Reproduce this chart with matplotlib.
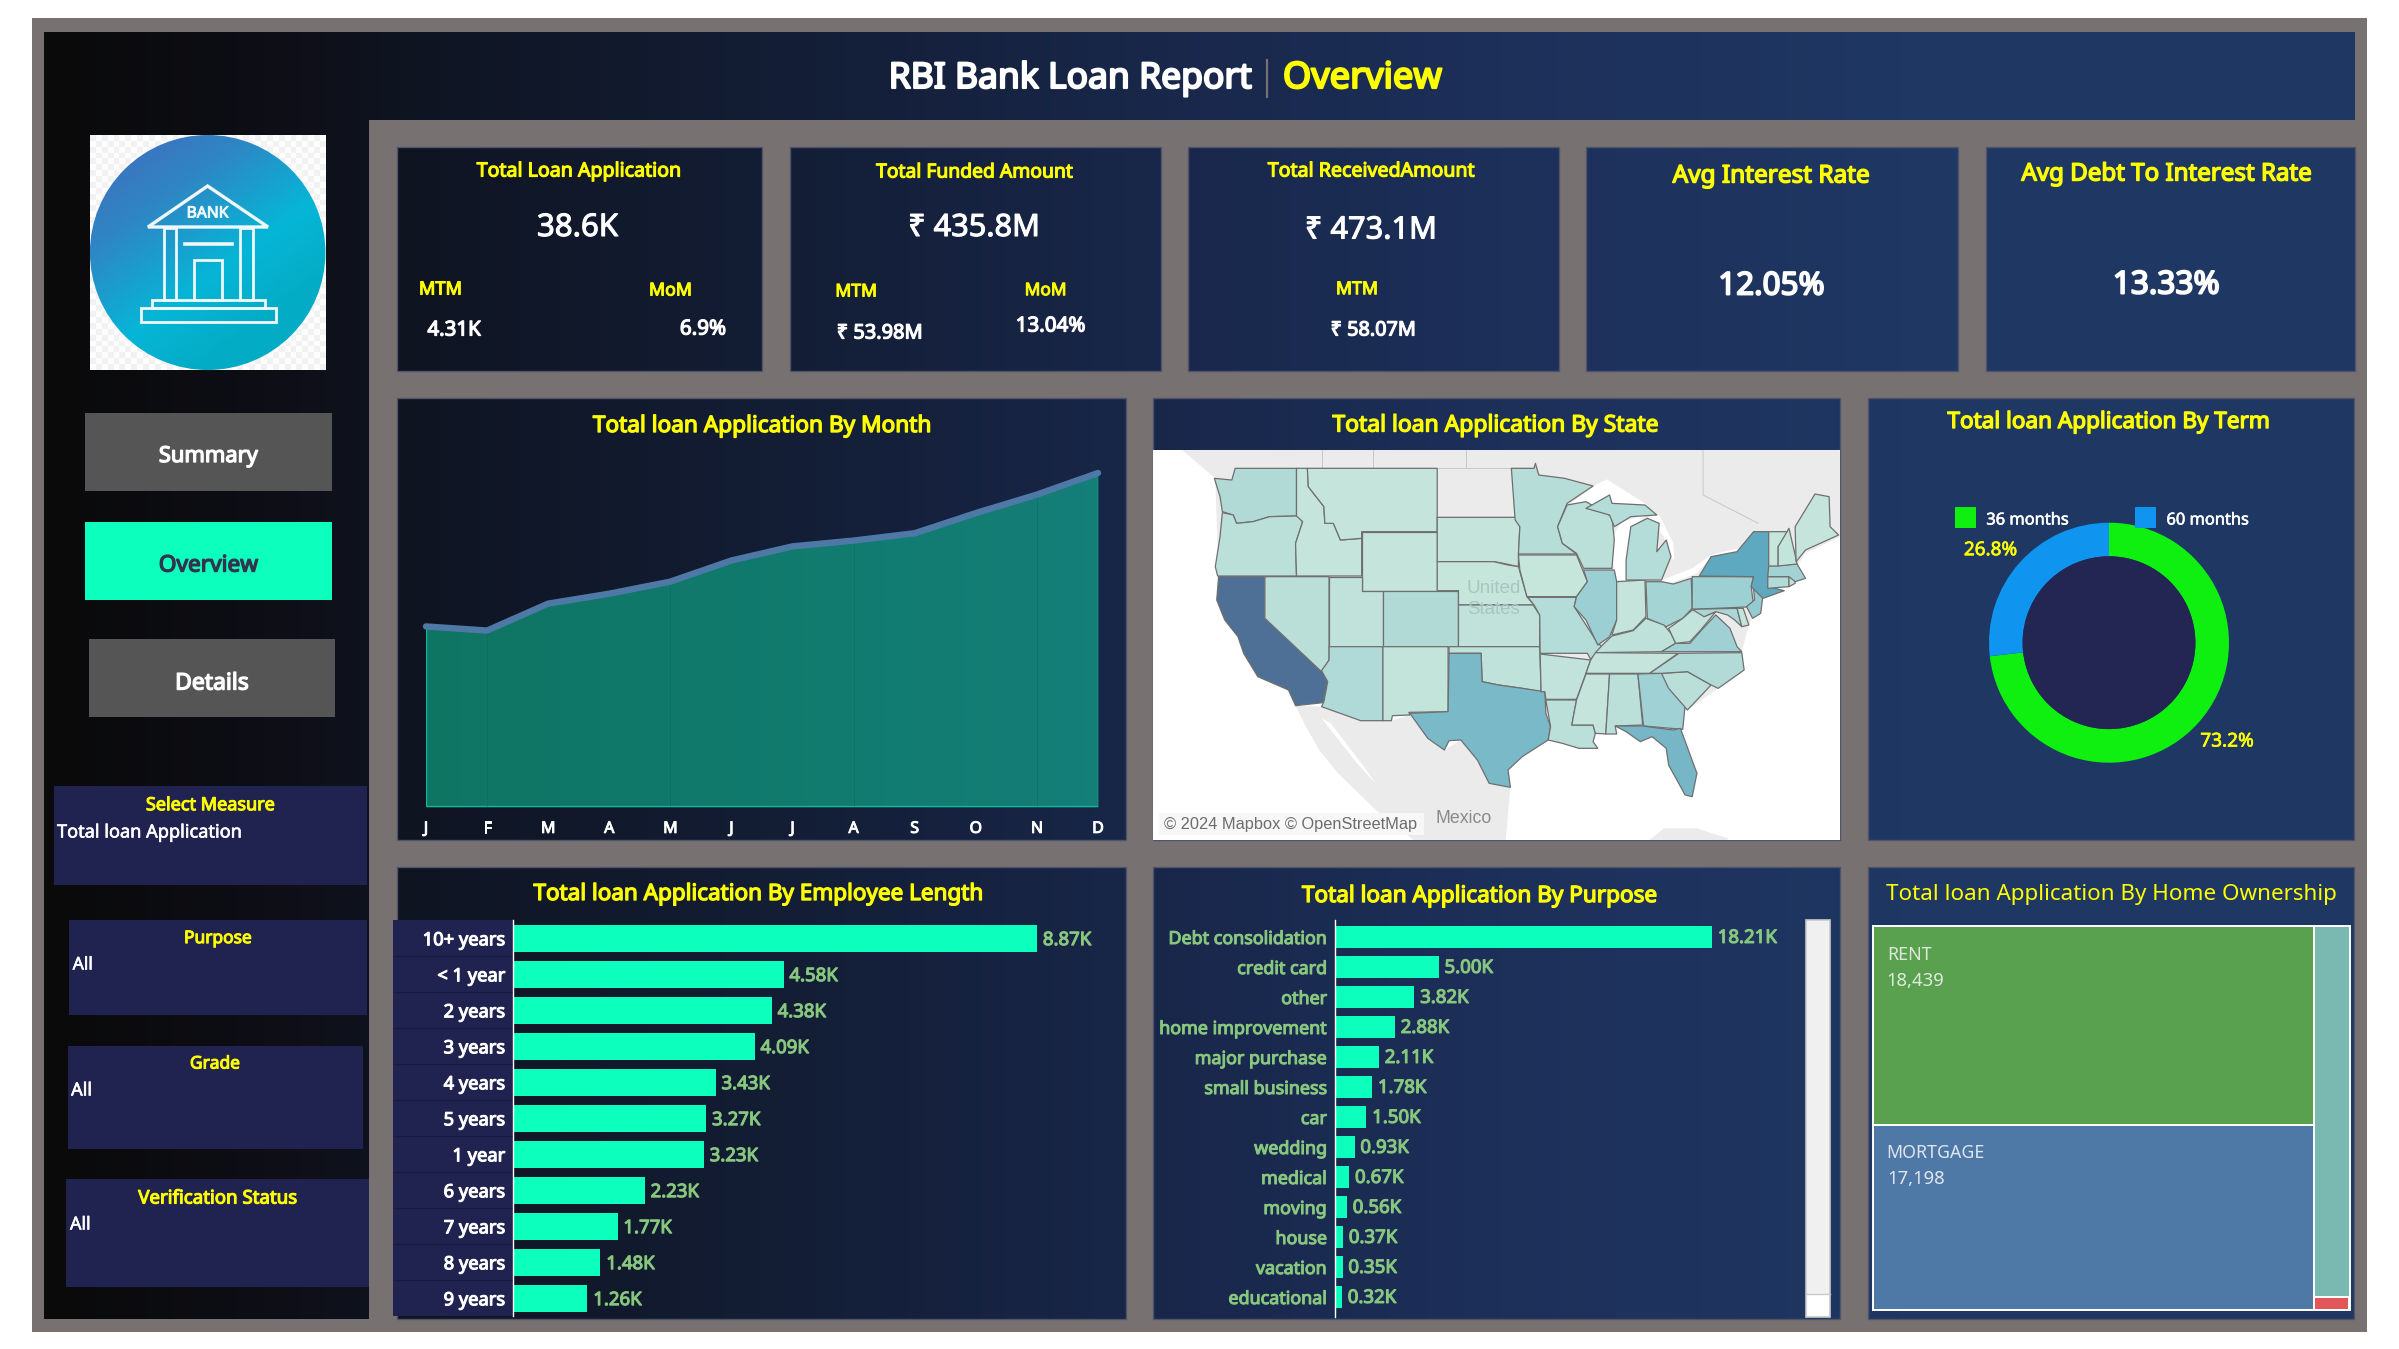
import numpy as np
import matplotlib
matplotlib.use("Agg")
import matplotlib.pyplot as plt
import matplotlib.patheffects as pef
from matplotlib.patches import Rectangle, Polygon, Circle, Ellipse
from matplotlib.colors import LinearSegmentedColormap

# ---------------- data ----------------
months = ["J", "F", "M", "A", "M", "J", "J", "A", "S", "O", "N", "D"]
month_apps = [2332, 2279, 2627, 2755, 2911, 3184, 3366, 3441, 3536, 3796, 4035, 4314]

emp_labels = ["10+ years", "< 1 year", "2 years", "3 years", "4 years", "5 years",
              "1 year", "6 years", "7 years", "8 years", "9 years"]
emp_values = [8.87, 4.58, 4.38, 4.09, 3.43, 3.27, 3.23, 2.23, 1.77, 1.48, 1.26]

purpose_labels = ["Debt consolidation", "credit card", "other", "home improvement",
                  "major purchase", "small business", "car", "wedding", "medical",
                  "moving", "house", "vacation", "educational"]
purpose_values = [18.21, 5.00, 3.82, 2.88, 2.11, 1.78, 1.50, 0.93, 0.67, 0.56, 0.37, 0.35, 0.32]

term_labels = ["36 months", "60 months"]
term_share = [73.2, 26.8]

home_labels = ["RENT", "MORTGAGE", "OWN", "OTHER", "NONE"]
home_values = [18439, 17198, 2838, 98, 3]

state_codes = ["WA", "OR", "CA", "NV", "ID", "MT", "WY", "UT", "CO", "AZ", "NM", "SD", "NE", "KS",
               "OK", "TX", "MN", "IA", "MO", "AR", "LA", "WI", "IL", "IN", "MI", "MIU", "OH", "KY",
               "TN", "MS", "AL", "GA", "FL", "SC", "NC", "VA", "WV", "PA", "MD", "DE", "NJ", "NY",
               "CT", "RI", "MA", "VT", "NH", "ME"]
state_values = [800, 430, 6900, 480, 60, 80, 80, 250, 770, 830, 180, 60, 50, 260,
                290, 2660, 590, 50, 670, 240, 430, 440, 1490, 90, 700, 700, 1190, 320,
                100, 60, 430, 1360, 2800, 460, 750, 1380, 170, 1480, 1030, 110, 1800, 3700,
                730, 190, 1310, 50, 160, 60]

kpi_titles = ["Total Loan Application", "Total Funded Amount", "Total ReceivedAmount",
              "Avg Interest Rate", "Avg Debt To Interest Rate"]
kpi_values = ["38.6K", "₹ 435.8M", "₹ 473.1M", "12.05%", "13.33%"]

# ---------------- geometry of the drawing (in reference pixels) ----------------
W, H = 2399, 1349
FONT = ["Noto Sans", "DejaVu Sans"]
plt.rcParams["font.family"] = FONT
YEL, WHT = "#ffff00", "#ffffff"
GREY = "#777171"
BAR = "#0dffbd"
VAL = "#88c77e"
BOX = "#20224f"
YOFF = 2.5

fig = plt.figure(figsize=(W / 100, H / 100), dpi=100, facecolor="white")
rend = fig.canvas.get_renderer()


def px_axes(x0, y0, x1, y1, z=2):
    a = fig.add_axes([x0 / W, 1 - y1 / H, (x1 - x0) / W, (y1 - y0) / H], zorder=z)
    a.patch.set_alpha(0)
    return a


bg = px_axes(0, 0, W, H, 1)
top = px_axes(0, 0, W, H, 10)
for a in (bg, top):
    a.set_xlim(0, W)
    a.set_ylim(H, 0)
    a.axis("off")

# global horizontal gradient that shows through every panel
sx = [0, 44, 300, 400, 760, 1125, 1500, 1900, 2399]
sr = [10, 10, 14, 15, 19, 24, 29, 31, 32]
sg = [10, 10, 15, 20, 29, 38, 48, 55, 56]
sb = [10, 10, 24, 33, 52, 72, 90, 99, 100]
xs = np.arange(W)
grad = np.stack([np.interp(xs, sx, sr), np.interp(xs, sx, sg), np.interp(xs, sx, sb)], axis=-1)[None, :, :] / 255


def panel(x0, y0, x1, y1, edge=True):
    i0, i1 = int(x0), int(x1)
    bg.imshow(grad[:, i0:i1], extent=(x0, x1, y1, y0), aspect="auto", zorder=2, interpolation="bilinear")
    if edge:
        bg.add_patch(Rectangle((x0, y0), x1 - x0, y1 - y0, fill=False, ec="#50546a", lw=1.0, zorder=3))


def rect(x0, y0, x1, y1, c, z=4, ax=bg, **k):
    ax.add_patch(Rectangle((x0, y0), x1 - x0, y1 - y0, fc=c, ec="none", zorder=z, **k))


def fit(s, w, weight="bold", family=None):
    t = top.text(0, 0, s, fontsize=10, fontweight=weight, family=family or FONT)
    b = t.get_window_extent(rend).width
    t.remove()
    return 10 * w / b


def heavy(fs, c, weight):
    k = {"bold": 0.06, "semibold": 0.035}.get(weight, 0)
    return [pef.withStroke(linewidth=fs * k, foreground=c)] if k else []


def T(x0, x1, y, s, c=WHT, weight="bold"):
    fs = fit(s, x1 - x0, weight)
    top.text((x0 + x1) / 2, y + YOFF, s, color=c, fontsize=fs, fontweight=weight,
             ha="center", va="center", zorder=20, path_effects=heavy(fs, c, weight))


rect(32, 18, 2367, 1332, GREY, z=1)
panel(44, 32, 369, 1319, edge=False)
panel(44, 32, 2355, 120, edge=False)

card_x = [(397, 762), (790, 1160.5), (1188, 1559), (1586, 1958), (1986, 2355)]
for x0, x1 in card_x:
    panel(x0, 147, x1, 371)
for (x0, x1) in [(396.5, 1125.5), (1152.5, 1840), (1867.5, 2354)]:
    panel(x0, 398, x1, 840)
    panel(x0, 867, x1, 1319)

# header
T(888.7, 1251.6, 76.5, "RBI Bank Loan Report")
T(1283, 1442, 76.5, "Overview", YEL)
bg.plot([1267, 1267], [60, 97], color=GREY, lw=1.6, zorder=5)

# ---------------- logo ----------------
lx0, lx1, ly0, ly1 = 90, 325.5, 135, 370
chk = (np.add.outer(np.arange(40), np.arange(40)) % 2)[..., None] * np.array([0.045] * 3) + 0.95
bg.imshow(chk, extent=(lx0, lx1, ly1, ly0), aspect="auto", zorder=4, interpolation="nearest")
u, v = np.meshgrid(np.linspace(0, 1, 200), np.linspace(0, 1, 200))
f = np.clip(u * 0.55 + v * 0.75, 0, 1)
logo_cm = LinearSegmentedColormap.from_list("logo", ["#4468bd", "#2f86c4", "#06b6d6", "#03a8bf"])
im = bg.imshow(f, cmap=logo_cm, vmin=0.0, vmax=1.1, extent=(lx0, lx1, ly1, ly0), aspect="auto", zorder=5)
ell = Ellipse((207.7, 252.5), lx1 - lx0, ly1 - ly0, transform=bg.transData, fc="none", ec="none")
bg.add_patch(ell)
im.set_clip_path(ell)
bd = "#eef7fa"
bg.add_patch(Polygon([(207.6, 186), (148, 227), (268, 227)], closed=True, fill=False, ec=bd, lw=2.4, zorder=6))
for a0, a1 in [(164, 176), (240, 252.5)]:
    bg.add_patch(Rectangle((a0, 228), a1 - a0, 72, fill=False, ec=bd, lw=2.0, zorder=6))
bg.add_patch(Rectangle((194, 260), 28, 40, fill=False, ec=bd, lw=2.0, zorder=6))
bg.plot([185, 232], [244, 244], color=bd, lw=2.6, zorder=6)
bg.add_patch(Rectangle((152, 300), 113, 8, fill=False, ec=bd, lw=2.0, zorder=6))
bg.add_patch(Rectangle((141, 308), 134.5, 14, fill=False, ec=bd, lw=2.0, zorder=6))
T(186.5, 228.5, 211, "BANK", bd, "bold")

# ---------------- side buttons and filters ----------------
rect(85, 413, 332, 490.5, "#555555")
rect(85, 522, 332, 599.5, BAR)
rect(88.5, 639, 334.5, 717, "#555555")
T(158.7, 258, 454, "Summary")
T(158.7, 258, 563.5, "Overview", "#33334d")
T(175, 248.7, 681, "Details")
filters = [("Select Measure", "Total loan Application", (54, 786, 367, 885), (145.7, 275, 802.7), (57.3, 241.7, 830)),
           ("Purpose", "All", (69, 919.5, 367, 1015), (184, 252, 935.6), (72.7, 93, 962)),
           ("Grade", "All", (67.7, 1045.6, 362.7, 1149), (190, 240, 1061), (71, 92, 1088)),
           ("Verification Status", "All", (66, 1179, 369, 1287), (138, 297, 1196), (70, 90.7, 1222))]
for name, val, b, tp, vp in filters:
    rect(*b, BOX)
    T(tp[0], tp[1], tp[2], name, YEL)
    T(vp[0], vp[1], vp[2], val, WHT, "semibold")

# ---------------- KPI cards ----------------
T(477, 681, 169, kpi_titles[0], YEL)
T(537, 618, 225.5, kpi_values[0], WHT, "semibold")
T(419, 462, 287, "MTM", YEL)
T(649, 692, 288, "MoM", YEL)
T(427.5, 480.6, 328, "4.31K")
T(680, 726, 327, "6.9%")
T(876, 1072.8, 170, kpi_titles[1], YEL)
T(908, 1039.8, 225.5, kpi_values[1], WHT, "semibold")
T(835.3, 877, 289, "MTM", YEL)
T(1024.6, 1066.5, 287.7, "MoM", YEL)
T(836.9, 923, 331, "₹ 53.98M")
T(1015.8, 1085, 324, "13.04%")
T(1268, 1475, 169, kpi_titles[2], YEL)
T(1305, 1436.8, 228, kpi_values[2], WHT, "semibold")
T(1336, 1378, 286.7, "MTM", YEL)
T(1330.6, 1415.9, 328, "₹ 58.07M")
T(1672.6, 1870, 174, kpi_titles[3], YEL)
T(1718.6, 1824, 284, kpi_values[3])
T(2021.6, 2312, 172, kpi_titles[4], YEL)
T(2113, 2219, 283, kpi_values[4])

# panel titles
T(593.3, 931, 424, "Total loan Application By Month", YEL)
T(1333, 1658.5, 423, "Total loan Application By State", YEL)
T(1948, 2269.8, 420, "Total loan Application By Term", YEL)
T(534, 983.5, 892, "Total loan Application By Employee Length", YEL)
T(1302, 1657, 894, "Total loan Application By Purpose", YEL)
T(1886.8, 2335.8, 892.3, "Total loan Application By Home Ownership", YEL, "normal")

# ---------------- area chart ----------------
ax = px_axes(426, 440, 1098, 807)
xm = np.arange(len(months))
ax.fill_between(xm, 0, month_apps, color="#0ffcbe", alpha=0.42, lw=0)
ax.plot([0, 0], [0, month_apps[0]], color="#14b896", lw=1)
ax.plot([11, 11], [0, month_apps[-1]], color="#14b896", lw=1)
ax.plot([0, 11], [0, 0], color="#14b896", lw=1.6)
for i in (1, 4, 7, 10):
    ax.plot([i, i], [0, month_apps[i]], color="#0f6458", lw=0.5, alpha=0.6)
ax.plot(xm, month_apps, color="#4e79a7", lw=4.6, solid_capstyle="round", solid_joinstyle="round", clip_on=False)
ax.set_xlim(0, 11)
ax.set_ylim(0, 4740)
ax.set_xticks(xm)
ax.set_xticklabels(months, color=WHT, fontweight="bold", fontsize=11.5,
                   path_effects=heavy(11.5, WHT, "bold"))
ax.set_yticks([])
ax.tick_params(axis="x", length=0, pad=10)
for s in ax.spines.values():
    s.set_visible(False)

# ---------------- map ----------------
shapes = {
    "WA": [(178, 295), (215, 300), (222, 265), (352, 265), (352, 408), (295, 410), (260, 425), (225, 430), (218, 405), (195, 395), (190, 350)],
    "OR": [(195, 398), (218, 405), (225, 430), (260, 425), (295, 410), (355, 408), (365, 425), (350, 490), (352, 588), (185, 588), (180, 560), (190, 470)],
    "CA": [(187, 590), (285, 590), (285, 715), (405, 870), (418, 905), (408, 968), (350, 977), (335, 930), (270, 890), (240, 820), (228, 770), (200, 720), (183, 660)],
    "NV": [(285, 590), (421, 590), (421, 840), (405, 875), (285, 715)],
    "ID": [(352, 265), (375, 265), (377, 320), (410, 380), (412, 430), (430, 430), (445, 480), (490, 475), (490, 588), (352, 588), (350, 490), (365, 425), (352, 408)],
    "MT": [(375, 265), (650, 265), (650, 455), (490, 455), (490, 475), (445, 480), (430, 430), (412, 430), (410, 380), (377, 320)],
    "WY": [(490, 457), (650, 457), (650, 632), (490, 632)],
    "UT": [(421, 590), (490, 590), (490, 632), (535, 632), (535, 800), (421, 800)],
    "CO": [(535, 632), (695, 632), (695, 800), (535, 800)],
    "AZ": [(421, 800), (535, 800), (535, 1022), (488, 1022), (405, 980), (410, 965), (418, 905), (405, 872), (421, 840)],
    "NM": [(535, 800), (673, 800), (673, 995), (590, 997), (592, 1005), (555, 1007), (553, 1022), (535, 1022)],
    "SD": [(650, 412), (820, 412), (825, 440), (822, 525), (822, 560), (790, 550), (770, 545), (650, 545)],
    "NE": [(650, 545), (770, 545), (800, 555), (822, 560), (840, 650), (855, 675), (695, 675), (695, 632), (650, 632)],
    "KS": [(695, 675), (853, 675), (867, 705), (867, 800), (695, 800)],
    "OK": [(675, 800), (867, 800), (870, 935), (830, 925), (780, 915), (745, 905), (743, 820), (675, 820)],
    "TX": [(675, 820), (743, 820), (745, 905), (780, 915), (830, 925), (878, 935), (880, 1000), (890, 1040), (885, 1080), (830, 1130), (800, 1170), (805, 1222), (760, 1210), (735, 1140), (700, 1080), (675, 1082), (665, 1110), (630, 1075), (592, 1000), (673, 995)],
    "MN": [(807, 265), (855, 265), (858, 250), (865, 285), (920, 295), (980, 318), (925, 370), (905, 440), (915, 490), (945, 522), (822, 522), (825, 440), (815, 420)],
    "IA": [(822, 525), (945, 525), (968, 605), (945, 650), (840, 650), (825, 570)],
    "MO": [(842, 652), (945, 652), (940, 680), (990, 790), (1000, 800), (975, 838), (968, 820), (868, 820), (867, 705), (855, 675)],
    "AR": [(868, 822), (975, 840), (965, 880), (945, 958), (880, 958), (878, 935), (870, 935)],
    "LA": [(880, 960), (945, 960), (935, 1035), (980, 1035), (985, 1060), (980, 1085), (990, 1105), (950, 1105), (915, 1090), (885, 1080), (890, 1040)],
    "WI": [(925, 375), (965, 365), (1020, 410), (1025, 480), (1020, 565), (960, 565), (945, 520), (915, 490), (905, 440)],
    "IL": [(960, 570), (1025, 570), (1030, 605), (1030, 720), (1015, 770), (990, 795), (965, 720), (940, 680), (945, 650), (968, 605)],
    "IN": [(1030, 605), (1090, 600), (1092, 710), (1065, 750), (1020, 765), (1030, 720)],
    "MI": [(1050, 600), (1125, 600), (1145, 530), (1135, 480), (1115, 515), (1120, 430), (1095, 415), (1060, 440), (1050, 540)],
    "MIU": [(965, 385), (1015, 345), (1020, 370), (1090, 375), (1115, 405), (1060, 410), (1025, 440), (1015, 405)],
    "OH": [(1092, 605), (1125, 605), (1150, 612), (1188, 595), (1190, 685), (1170, 715), (1135, 740), (1095, 715)],
    "KY": [(1020, 768), (1065, 752), (1092, 715), (1130, 735), (1145, 760), (1155, 790), (1125, 815), (985, 818), (1000, 795)],
    "TN": [(985, 818), (1160, 820), (1100, 880), (965, 880), (975, 840)],
    "MS": [(965, 882), (1015, 882), (1007, 1062), (985, 1060), (980, 1035), (935, 1035), (945, 960)],
    "AL": [(1015, 882), (1075, 882), (1085, 1035), (1027, 1038), (1030, 1062), (1007, 1062)],
    "GA": [(1075, 882), (1125, 880), (1175, 975), (1170, 1048), (1087, 1038)],
    "FL": [(1027, 1038), (1085, 1038), (1150, 1050), (1165, 1045), (1200, 1180), (1190, 1250), (1175, 1245), (1140, 1155), (1135, 1105), (1105, 1070), (1080, 1085), (1050, 1055)],
    "SC": [(1125, 880), (1180, 875), (1230, 915), (1180, 990), (1140, 925)],
    "NC": [(1100, 880), (1162, 820), (1295, 818), (1300, 870), (1245, 925), (1230, 915), (1180, 875), (1125, 880)],
    "VA": [(1125, 815), (1295, 815), (1285, 800), (1270, 745), (1240, 705), (1210, 750), (1185, 790), (1155, 790)],
    "WV": [(1140, 745), (1170, 715), (1190, 690), (1215, 688), (1215, 710), (1240, 695), (1208, 750), (1185, 785), (1155, 790)],
    "PA": [(1190, 590), (1320, 590), (1315, 620), (1320, 680), (1190, 688)],
    "MD": [(1190, 688), (1285, 685), (1295, 740), (1280, 720), (1265, 705), (1240, 695), (1215, 710)],
    "DE": [(1285, 685), (1298, 685), (1310, 735), (1295, 740)],
    "NJ": [(1320, 622), (1340, 645), (1335, 700), (1318, 715), (1305, 680), (1322, 660)],
    "NY": [(1205, 588), (1230, 530), (1285, 515), (1320, 455), (1352, 455), (1352, 560), (1350, 620), (1385, 632), (1340, 655), (1315, 620), (1320, 590)],
    "CT": [(1350, 590), (1395, 590), (1395, 620), (1350, 625)],
    "RI": [(1395, 590), (1408, 590), (1408, 610), (1395, 620)],
    "MA": [(1352, 558), (1412, 552), (1430, 595), (1408, 605), (1395, 590), (1350, 590)],
    "VT": [(1352, 455), (1395, 455), (1372, 500), (1372, 558), (1352, 558)],
    "NH": [(1395, 445), (1408, 525), (1412, 552), (1372, 558), (1372, 500)],
    "ME": [(1408, 440), (1450, 342), (1480, 350), (1482, 440), (1500, 465), (1430, 510), (1410, 545)],
}
mp = px_axes(1152.5, 450, 1840, 840)
mp.patch.set_alpha(1)
mp.set_facecolor("white")
mp.set_xlim(47, 1503)
mp.set_ylim(1380, 210)
mp.set_xticks([])
mp.set_yticks([])
for s in mp.spines.values():
    s.set_visible(False)
LAND = "#ebebeb"
land = [
    [(110, 210), (1503, 210), (1503, 470), (1430, 520), (1412, 560), (1350, 640), (1180, 700), (900, 700), (187, 590), (180, 295)],
    [(350, 977), (405, 980), (488, 1022), (553, 1022), (592, 1005), (630, 1075), (665, 1110), (700, 1080), (735, 1140), (760, 1210), (805, 1222), (795, 1380), (600, 1380), (520, 1290), (440, 1180), (400, 1110), (372, 1040)],
    [(1100, 1380), (1130, 1345), (1200, 1345), (1265, 1375), (1265, 1380)],
    [(187, 590), (405, 880), (420, 960), (590, 1000), (880, 1000), (940, 1030), (1100, 1030), (1180, 990), (1245, 925), (1295, 815), (1310, 735), (1340, 650), (1180, 600)],
]
for p in land:
    mp.add_patch(Polygon(p, closed=True, fc=LAND, ec="none", zorder=1))
lakes = [
    [(925, 378), (985, 315), (1010, 298), (1095, 375), (1090, 382), (1020, 372), (965, 372)],
    [(1020, 475), (1040, 425), (1090, 405), (1060, 450), (1055, 540), (1050, 604), (1030, 600), (1020, 530)],
    [(1095, 410), (1120, 405), (1150, 490), (1152, 540), (1140, 530), (1130, 470)],
    [(1125, 600), (1190, 565), (1230, 525), (1285, 505), (1290, 515), (1225, 540), (1200, 580), (1140, 612)],
    [(405, 1015), (425, 1030), (500, 1170), (520, 1210), (480, 1150)],
]
for p in lakes:
    mp.add_patch(Polygon(p, closed=True, fc="white", ec="none", zorder=2))
for seg in [[(407, 210), (407, 262)], [(515, 210), (515, 265)], [(710, 210), (710, 265)],
            [(1213, 210), (1213, 345), (1330, 430)], [(650, 265), (807, 265)], [(807, 265), (820, 412)], [(650, 412), (820, 412)]]:
    mp.plot(*zip(*seg), color="#c8c8c8", lw=0.7, zorder=2)
state_cmap = LinearSegmentedColormap.from_list(
    "st", [(0, "#c7e6dc"), (1500 / 6900, "#9ccfd3"), (2800 / 6900, "#76b6c7"), (3700 / 6900, "#5fa9c0"), (1, "#4f7096")])
for code, val in zip(state_codes, state_values):
    mp.add_patch(Polygon(shapes[code], closed=True, fc=state_cmap(val / 6900), ec="#6f6f6f", lw=0.9, zorder=3, joinstyle="round"))
LS = "Liberation Sans"
mp.text(770, 625, "United", color="#aac4be", fontsize=fit("United", 55, "normal", LS), ha="center", va="center", zorder=4, family=LS)
mp.text(770, 690, "States", color="#aac4be", fontsize=fit("States", 53, "normal", LS), ha="center", va="center", zorder=4, family=LS)
mp.text(705, 1315, "Mexico", color="#8a8a8a", fontsize=fit("Mexico", 56.6, "normal", LS), ha="center", va="center", zorder=4, family=LS)
mp.add_patch(Rectangle((60, 1300), 563, 65, fc="#f7f7f7", ec="none", zorder=4))
mp.text(72, 1335, "© 2024 Mapbox © OpenStreetMap", color="#6c6c6c", fontsize=fit("© 2024 Mapbox © OpenStreetMap", 254, "normal", LS),
        ha="left", va="center", zorder=5, family=LS)

# ---------------- donut ----------------
cx, cy, R = 2109, 642.7, 120
pad = 1.04
dn = px_axes(cx - R * pad, cy - R * pad, cx + R * pad, cy + R * pad)
dn.pie(term_share, colors=["#0fef10", "#0f94ef"], startangle=90, counterclock=False, radius=1,
       wedgeprops=dict(width=0.28, lw=0))
dn.add_patch(Circle((0, 0), 0.72, fc="#232553", ec="none", zorder=5))
dn.set_xlim(-pad, pad)
dn.set_ylim(-pad, pad)
rect(1955, 507, 1976, 527.7, "#0fef10", z=15, ax=top)
rect(2135, 507, 2156, 527.7, "#0f94ef", z=15, ax=top)
T(1986.5, 2068.5, 518, term_labels[0], WHT, "semibold")
T(2166.6, 2248.6, 518, term_labels[1], WHT, "semibold")
T(1964, 2017, 547.7, f"{term_share[1]}%", YEL, "semibold")
T(2200.5, 2253.5, 739, f"{term_share[0]}%", YEL, "semibold")

# ---------------- employee length bars ----------------
rect(393, 920, 513, 1316, BOX)
pxk = 59.08
eb = px_axes(513, 920, 1125, 1316)
yy = np.arange(len(emp_labels))
eb.barh(yy, emp_values, height=0.75, color=BAR, lw=0)
eb.set_xlim(0, (1125 - 513) / pxk)
eb.set_ylim((1316 - 938.3) / 36, -(938.3 - 920) / 36)
eb.set_yticks(yy)
fs_lab = fit(emp_labels[0], 82.4, "semibold")
eb.set_yticklabels(emp_labels, color=WHT, fontweight="semibold", fontsize=fs_lab,
                   path_effects=heavy(fs_lab, WHT, "bold"))
eb.set_xticks([])
eb.tick_params(axis="y", length=0, pad=5.6)
for s in ("top", "right", "bottom"):
    eb.spines[s].set_visible(False)
eb.spines["left"].set_color("white")
eb.spines["left"].set_linewidth(1.0)
fs_val = fit("8.87K", 48.5, "semibold")
for y, v in zip(yy, emp_values):
    eb.annotate(f"{v:.2f}K", (v, y + 0.05), xytext=(4.2, 0), textcoords="offset points",
                color=VAL, fontsize=fs_val, fontweight="semibold", va="center", ha="left",
                path_effects=heavy(fs_val, VAL, "bold"))
eb.hlines(yy[:-1] + 0.5, -120 / pxk, 0, color="#191a40", lw=0.8, clip_on=False)

# ---------------- purpose bars ----------------
pxp = 20.68
pb = px_axes(1335.3, 920, 1800, 1317)
yp = np.arange(len(purpose_labels))
pb.barh(yp, purpose_values, height=22 / 30, color=BAR, lw=0)
pb.set_xlim(0, (1800 - 1335.3) / pxp)
pb.set_ylim((1317 - 937) / 30, -(937 - 920) / 30)
pb.set_yticks(yp)
fs_pl = fit(purpose_labels[0], 158, "semibold")
pb.set_yticklabels(purpose_labels, color=VAL, fontweight="semibold", fontsize=fs_pl,
                   path_effects=heavy(fs_pl, VAL, "bold"))
pb.set_xticks([])
pb.tick_params(axis="y", length=0, pad=6)
for s in ("top", "right", "bottom"):
    pb.spines[s].set_visible(False)
pb.spines["left"].set_color("white")
pb.spines["left"].set_linewidth(1.0)
fs_pv = fit("18.21K", 59, "semibold")
for y, v in zip(yp, purpose_values):
    pb.annotate(f"{v:.2f}K", (v, y + 0.03), xytext=(4.2, 0), textcoords="offset points",
                color=VAL, fontsize=fs_pv, fontweight="semibold", va="center", ha="left",
                path_effects=heavy(fs_pv, VAL, "bold"))
rect(1805.8, 920, 1830, 1317, "#f0f0f0")
rect(1805.8, 1294, 1830, 1317, "#ffffff", z=5)
bg.add_patch(Rectangle((1805.8, 920), 24.2, 397, fill=False, ec="#c9c9c9", lw=1.2, zorder=6))
bg.plot([1805.8, 1830], [1294, 1294], color="#c9c9c9", lw=1, zorder=6)

# ---------------- treemap ----------------
tm = px_axes(1873, 926, 2350, 1310)
tm.patch.set_alpha(1)
tm.set_facecolor("white")
tot = sum(home_values)
left = home_values[0] + home_values[1]
rest = tot - left
tiny = home_values[3] + home_values[4]
colw = left / tot
edge = dict(ec="white", lw=1.4)
tm.add_patch(Rectangle((0, 0), colw, home_values[0] / left, fc="#59a14f", **edge))
tm.add_patch(Rectangle((0, home_values[0] / left), colw, home_values[1] / left, fc="#4e79a7", **edge))
own_h = home_values[2] / rest
tm.add_patch(Rectangle((colw, 0), 1 - colw, own_h, fc="#7ab8b2", **edge))
other_w = home_values[3] / tiny * (1 - colw)
tm.add_patch(Rectangle((colw, own_h), other_w, 1 - own_h, fc="#e15759", **edge))
tm.add_patch(Rectangle((colw + other_w, own_h), (1 - colw) - other_w, 1 - own_h, fc="#ffffff", **edge))
tm.set_xlim(0, 1)
tm.set_ylim(1, 0)
tm.set_xticks([])
tm.set_yticks([])
for s in tm.spines.values():
    s.set_color("white")
    s.set_linewidth(1.4)
T(1886.8, 1931.5, 952, home_labels[0], "#dfe9db", "light")
T(1886.8, 1944.6, 979, f"{home_values[0]:,}", "#dfe9db", "light")
T(1886.8, 1984.8, 1150, home_labels[1], "#dfe6ef", "light")
T(1886.8, 1944.6, 1177, f"{home_values[1]:,}", "#dfe6ef", "light")

fig.savefig("out.png", dpi=100, facecolor="white")
